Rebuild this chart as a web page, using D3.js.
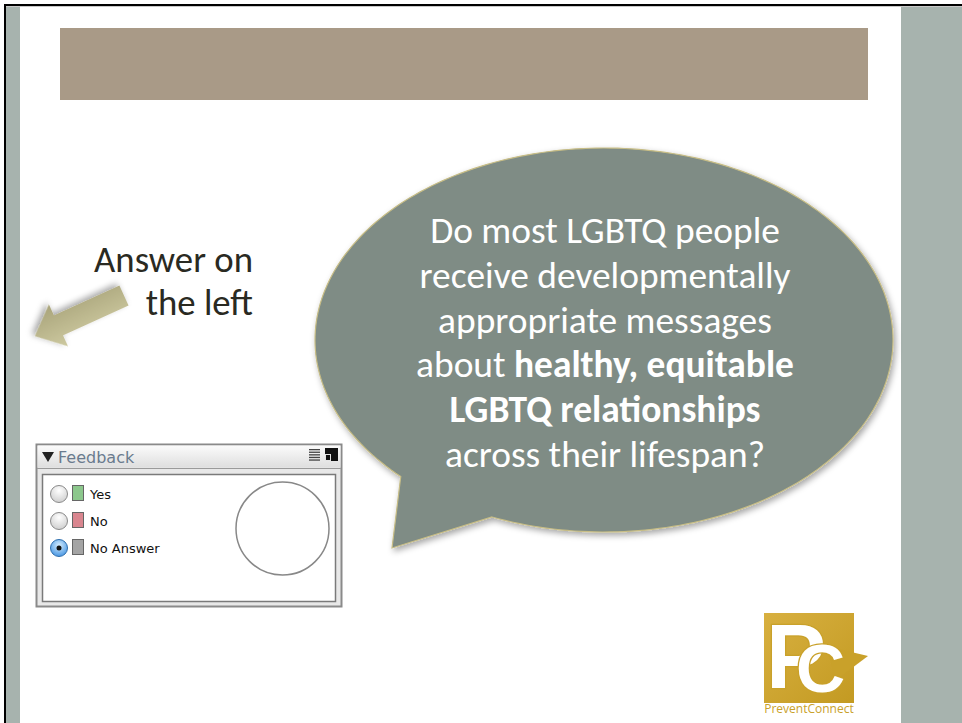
<!DOCTYPE html>
<meta charset="utf-8">
<style>
body { margin: 0; background: #fff; }
svg { display: block; }
.q text { fill: #fff; text-anchor: middle; }
.prompt text { fill: #2a2a22; text-anchor: end; }
.fb text { font-family: "DejaVu Sans", sans-serif; font-size: 13px; fill: #111; }
</style>
<svg></svg>
<script src="https://d3js.org/d3.v7.min.js"></script>
<script>

var width = 962,
    height = 723;

// slide content
var questionLines = [
  [["Do most LGBTQ people", 0]],
  [["receive developmentally", 0]],
  [["appropriate messages", 0]],
  [["about ", 0], ["healthy, equitable", 1]],
  [["LGBTQ relationships", 1]],
  [["across their lifespan?", 0]]
];
var promptLines = ["Answer on", "the left"];
var feedbackOptions = ["Yes", "No", "No Answer"];
var optionColors = ["#8cc78c", "#d9868f", "#a4a4a4"];
var selectedOption = "No Answer";
var logoLetters = ["P", "C"];
var logoWord = "PreventConnect";

var svg = d3.select("svg").attr("width", width).attr("height", height);
var defs = svg.append("defs");

var sh = defs.append("filter").attr("id", "shadow").attr("x", "-10%").attr("y", "-10%").attr("width", "130%").attr("height", "130%");
sh.append("feDropShadow").attr("dx", 2).attr("dy", 3).attr("stdDeviation", 3).attr("flood-color", "#000").attr("flood-opacity", 0.35);

var ag = defs.append("linearGradient").attr("id", "arrowGrad").attr("x1", 0).attr("y1", 0).attr("x2", 0).attr("y2", 1);
ag.append("stop").attr("offset", "0%").attr("stop-color", "#cdc9a0");
ag.append("stop").attr("offset", "100%").attr("stop-color", "#a9a47a");

var tg = defs.append("linearGradient").attr("id", "titleGrad").attr("x1", 0).attr("y1", 0).attr("x2", 0).attr("y2", 1);
tg.append("stop").attr("offset", "0%").attr("stop-color", "#fbfbfb");
tg.append("stop").attr("offset", "100%").attr("stop-color", "#dedede");

var lg = defs.append("linearGradient").attr("id", "logoGrad").attr("x1", 0).attr("y1", 0).attr("x2", 1).attr("y2", 1);
lg.append("stop").attr("offset", "0%").attr("stop-color", "#d8b040");
lg.append("stop").attr("offset", "100%").attr("stop-color", "#c39a22");

var rg = defs.append("radialGradient").attr("id", "radioOff").attr("cx", "50%").attr("cy", "30%").attr("r", "70%");
rg.append("stop").attr("offset", "0%").attr("stop-color", "#ffffff");
rg.append("stop").attr("offset", "100%").attr("stop-color", "#cfcfcf");
var rb = defs.append("radialGradient").attr("id", "radioOn").attr("cx", "50%").attr("cy", "35%").attr("r", "70%");
rb.append("stop").attr("offset", "0%").attr("stop-color", "#d6eeff");
rb.append("stop").attr("offset", "100%").attr("stop-color", "#3d8fe0");

// frame of the slide
svg.append("rect").attr("x", 4).attr("y", 4).attr("width", width).attr("height", height).attr("fill", "#000");
svg.append("rect").attr("x", 6).attr("y", 6).attr("width", width).attr("height", height).attr("fill", "#fff");
svg.append("rect").attr("x", 6).attr("y", 6).attr("width", width).attr("height", 1).attr("fill", "#c8c8c8");
svg.append("rect").attr("x", 6).attr("y", 7).attr("width", 14).attr("height", height).attr("fill", "#a7b3ae");
svg.append("rect").attr("x", 901).attr("y", 7).attr("width", 61).attr("height", height).attr("fill", "#a7b3ae");
svg.append("rect").attr("x", 60).attr("y", 28).attr("width", 808).attr("height", 72).attr("fill", "#a99a87");

// speech bubble: ellipse with a tail at lower left
var cx = 604, cy = 340, rx = 289, ry = 192;
var a1 = Math.atan2((477 - cy) / ry, (400 - cx) / rx),
    a2 = Math.atan2((517 - cy) / ry, (492 - cx) / rx);
var span = ((a2 - a1) + 2 * Math.PI) % (2 * Math.PI);
var pts = d3.range(0, 241).map(function(i) {
  var a = a2 - span * i / 240;
  return [cx + rx * Math.cos(a), cy + ry * Math.sin(a)];
});
pts.push([392, 548]);
svg.append("path")
  .attr("d", d3.line()(pts) + "Z")
  .attr("fill", "#7f8c85")
  .attr("stroke", "#c7bd86")
  .attr("stroke-width", 1.2)
  .attr("filter", "url(#shadow)");

var qy = d3.scalePoint().domain(d3.range(questionLines.length)).range([243, 467]);
var q = svg.append("g").attr("class", "q")
  .style("font-family", "Carlito, Lato, 'Open Sans', sans-serif");
var qt = q.selectAll("text").data(questionLines).enter().append("text")
  .attr("x", 605)
  .attr("y", function(d, i) { return qy(i); })
  .style("font-size", "32px");
qt.selectAll("tspan").data(function(d) { return d; }).enter().append("tspan")
  .attr("font-weight", function(d) { return d[1] ? "bold" : "normal"; })
  .text(function(d) { return d[0]; });
var w4 = qt.nodes()[3].getComputedTextLength();
qt.style("font-size", (32 * 378 / w4) + "px");

// answer prompt
var py = d3.scalePoint().domain(promptLines).range([272, 315]);
var pr = svg.append("g").attr("class", "prompt")
  .style("font-family", "Carlito, Lato, 'Open Sans', sans-serif");
var pt = pr.selectAll("text").data(promptLines).enter().append("text")
  .attr("x", 253)
  .attr("y", function(d) { return py(d); })
  .style("font-size", "32px")
  .text(function(d) { return d; });
var w0 = pt.nodes()[0].getComputedTextLength();
pt.style("font-size", (32 * 159 / w0) + "px");

// block arrow pointing down-left
var arrowLocal = [[0, -11], [72, -11], [72, -23], [98, 0], [72, 23], [72, 11], [0, 11]];
svg.append("polygon")
  .attr("points", arrowLocal.map(function(p) { return p.join(","); }).join(" "))
  .attr("transform", "translate(124,295.5) rotate(155.5)")
  .attr("fill", "url(#arrowGrad)")
  .attr("filter", "url(#shadow)");

// feedback panel
var fb = svg.append("g").attr("class", "fb");
fb.append("rect").attr("x", 36.5).attr("y", 444.5).attr("width", 305).attr("height", 162)
  .attr("fill", "#e8e8e8").attr("stroke", "#8a8a8a").attr("stroke-width", 2);
fb.append("rect").attr("x", 37.5).attr("y", 445.5).attr("width", 303).attr("height", 22)
  .attr("fill", "url(#titleGrad)");
fb.append("line").attr("x1", 37).attr("x2", 341).attr("y1", 468.5).attr("y2", 468.5).attr("stroke", "#9a9a9a");
fb.append("path").attr("d", "M42,452 L54,452 L48,462 Z").attr("fill", "#222");
fb.append("text").attr("x", 58).attr("y", 463).style("font-size", "16px").style("fill", "#6a7b8e").text("Feedback");
d3.range(5).forEach(function(i) {
  fb.append("rect").attr("x", 309).attr("y", 449 + i * 2.6).attr("width", 11).attr("height", 1.3).attr("fill", "#444");
});
fb.append("rect").attr("x", 325).attr("y", 448).attr("width", 13).attr("height", 13).attr("fill", "#111");
fb.append("rect").attr("x", 325).attr("y", 454).attr("width", 6).attr("height", 7).attr("fill", "#e4e4e4");
fb.append("rect").attr("x", 326).attr("y", 455).attr("width", 4).attr("height", 5).attr("fill", "#111");

fb.append("rect").attr("x", 42.5).attr("y", 474.5).attr("width", 293).attr("height", 127)
  .attr("fill", "#fff").attr("stroke", "#7a7a7a").attr("stroke-width", 1.5);

var ry2 = d3.scalePoint().domain(feedbackOptions).range([494, 548]);
var row = fb.selectAll(".opt").data(feedbackOptions).enter().append("g").attr("class", "opt")
  .attr("transform", function(d) { return "translate(0," + ry2(d) + ")"; });
row.append("circle").attr("cx", 59).attr("cy", 0).attr("r", 8.5)
  .attr("fill", function(d) { return d === selectedOption ? "url(#radioOn)" : "url(#radioOff)"; })
  .attr("stroke", function(d) { return d === selectedOption ? "#2f6fae" : "#8a8a8a"; });
row.filter(function(d) { return d === selectedOption; })
  .append("circle").attr("cx", 59).attr("cy", 0).attr("r", 2.5).attr("fill", "#111");
row.append("rect").attr("x", 72.5).attr("y", -8.5).attr("width", 11).attr("height", 15)
  .attr("fill", function(d, i) { return optionColors[i]; })
  .attr("stroke", "#666").attr("stroke-width", 1);
row.append("text").attr("x", 90).attr("y", 5).text(function(d) { return d; });

fb.append("circle").attr("cx", 282.5).attr("cy", 528.5).attr("r", 46.5)
  .attr("fill", "#fff").attr("stroke", "#888").attr("stroke-width", 1.5);

// logo
var logo = svg.append("g");
logo.append("rect").attr("x", 764).attr("y", 613).attr("width", 90).attr("height", 90).attr("fill", "url(#logoGrad)");
logo.append("polygon").attr("points", "826,646 868,656 836,680").attr("fill", "#c9a12a");
var pc = logo.append("text").attr("x", 766).attr("y", 688)
  .style("font-family", "'Liberation Sans', Arial, sans-serif").style("font-weight", "bold")
  .attr("fill", "#fff").attr("stroke", "#c9a12a").attr("stroke-width", 2.5).style("paint-order", "stroke");
pc.selectAll("tspan").data(logoLetters).enter().append("tspan")
  .style("font-size", function(d, i) { return i ? "68px" : "90px"; })
  .attr("dx", function(d, i) { return i ? -30 : 0; })
  .attr("dy", function(d, i) { return i ? 4 : 0; })
  .text(function(d) { return d; });
logo.append("text").attr("x", 809).attr("y", 713).attr("text-anchor", "middle")
  .style("font-family", "'Open Sans', sans-serif").style("font-size", "12px")
  .attr("fill", "#c9a12a").text(logoWord);

</script>
